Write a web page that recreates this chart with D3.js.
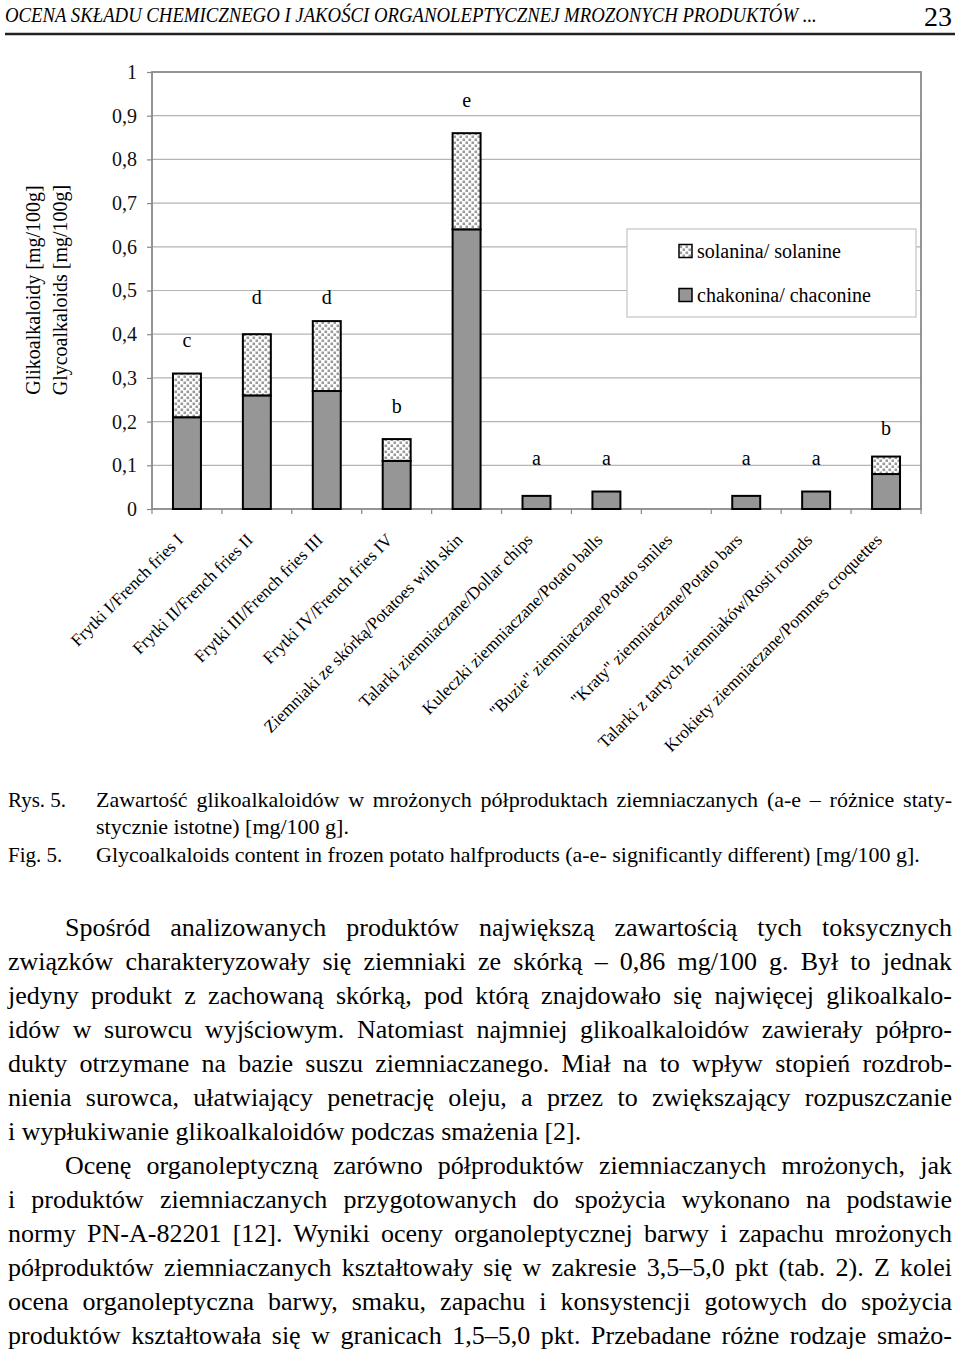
<!DOCTYPE html>
<html>
<head>
<meta charset="utf-8">
<script src="https://cdn.jsdelivr.net/npm/d3@7"></script>
<style>
    body { margin: 0; background: #fff; }
    svg { display: block; font-family: "Liberation Serif", "Times New Roman", serif; }
</style>
</head>
<body>
<script>
// chart data
const categories = [
    "Frytki I/French fries I",
    "Frytki II/French fries II",
    "Frytki III/French fries III",
    "Frytki IV/French fries IV",
    "Ziemniaki ze skórką/Potatoes with skin",
    "Talarki ziemniaczane/Dollar chips",
    "Kuleczki ziemniaczane/Potato balls",
    "\"Buzie\" ziemniaczane/Potato smiles",
    "\"Kraty\" ziemniaczane/Potato bars",
    "Talarki z tartych ziemniaków/Rosti rounds",
    "Krokiety ziemniaczane/Pommes croquettes"
];
const chaconine = [0.21, 0.26, 0.27, 0.11, 0.64, 0.03, 0.04, 0, 0.03, 0.04, 0.08];
const solanine = [0.10, 0.14, 0.16, 0.05, 0.22, 0, 0, 0, 0, 0, 0.04];
const letters = ["c", "d", "d", "b", "e", "a", "a", "", "a", "a", "b"];
const letterLevels = [0.37, 0.47, 0.47, 0.22, 0.92, 0.10, 0.10, 0, 0.10, 0.10, 0.17];
const yTicks = [0, 0.1, 0.2, 0.3, 0.4, 0.5, 0.6, 0.7, 0.8, 0.9, 1];
const seriesNames = { solanine: "solanina/ solanine", chaconine: "chakonina/ chaconine" };
const yTitle = ["Glikoalkaloidy [mg/100g]", "Glycoalkaloids [mg/100g]"];

// page text
const header = "OCENA SKŁADU CHEMICZNEGO I JAKOŚCI ORGANOLEPTYCZNEJ MROZONYCH PRODUKTÓW ...";
const pageNo = "23";
const caption = [
    { lab: "Rys. 5.", text: "Zawartość glikoalkaloidów w mrożonych półproduktach ziemniaczanych (a-e – różnice staty-", just: true },
    { lab: "", text: "stycznie istotne) [mg/100 g].", just: false },
    { lab: "Fig. 5.", text: "Glycoalkaloids content in frozen potato halfproducts (a-e- significantly different) [mg/100 g].", just: false }
];
const body = [
    { text: "Spośród analizowanych produktów największą zawartością tych toksycznych", indent: true, just: true },
    { text: "związków charakteryzowały się ziemniaki ze skórką – 0,86 mg/100 g. Był to jednak", just: true },
    { text: "jedyny produkt z zachowaną skórką, pod którą znajdowało się najwięcej glikoalkalo-", just: true },
    { text: "idów w surowcu wyjściowym. Natomiast najmniej glikoalkaloidów zawierały półpro-", just: true },
    { text: "dukty otrzymane na bazie suszu ziemniaczanego. Miał na to wpływ stopień rozdrob-", just: true },
    { text: "nienia surowca, ułatwiający penetrację oleju, a przez to zwiększający rozpuszczanie", just: true },
    { text: "i wypłukiwanie glikoalkaloidów podczas smażenia [2].", just: false },
    { text: "Ocenę organoleptyczną zarówno półproduktów ziemniaczanych mrożonych, jak", indent: true, just: true },
    { text: "i produktów ziemniaczanych przygotowanych do spożycia wykonano na podstawie", just: true },
    { text: "normy PN-A-82201 [12]. Wyniki oceny organoleptycznej barwy i zapachu mrożonych", just: true },
    { text: "półproduktów ziemniaczanych kształtowały się w zakresie 3,5–5,0 pkt (tab. 2). Z kolei", just: true },
    { text: "ocena organoleptyczna barwy, smaku, zapachu i konsystencji gotowych do spożycia", just: true },
    { text: "produktów kształtowała się w granicach 1,5–5,0 pkt. Przebadane różne rodzaje smażo-", just: true }
];

const W = 960, H = 1355;
const svg = d3.select("body").append("svg")
    .attr("width", W)
    .attr("height", H);

// dotted fill for solanine
const defs = svg.append("defs");
const pat = defs.append("pattern")
    .attr("id", "dots")
    .attr("patternUnits", "userSpaceOnUse")
    .attr("width", 6).attr("height", 6);
pat.append("rect").attr("width", 6).attr("height", 6).attr("fill", "#fff");
pat.append("rect").attr("x", 0.5).attr("y", 0.5).attr("width", 2.6).attr("height", 2.6).attr("fill", "#9a9a9a");
pat.append("rect").attr("x", 3.5).attr("y", 3.5).attr("width", 2.6).attr("height", 2.6).attr("fill", "#9a9a9a");

// justify a text line by stretching (or squeezing) word spacing
function justify(sel, width) {
    const natural = sel.node().getComputedTextLength();
    const spaces = (sel.text().match(/ /g) || []).length;
    if (spaces > 0) sel.attr("word-spacing", (width - natural) / spaces);
}

// header, squeezed like the condensed running head
const head = svg.append("text")
    .attr("font-size", 22)
    .attr("font-style", "italic")
    .text(header);
const headLen = head.node().getComputedTextLength();
head.attr("transform", "translate(5,22) scale(" + (812 / headLen) + ",1)");
svg.append("text")
    .attr("x", 952).attr("y", 26)
    .attr("text-anchor", "end")
    .attr("font-size", 28)
    .text(pageNo);
svg.append("line")
    .attr("x1", 5).attr("x2", 955)
    .attr("y1", 34).attr("y2", 34)
    .attr("stroke", "#222")
    .attr("stroke-width", 2.5);

// chart
const plot = { left: 152, right: 921, top: 72, bottom: 509 };

const x = d3.scaleBand()
    .domain(categories)
    .range([plot.left, plot.right])
    .paddingInner(0.6)
    .paddingOuter(0.3);

const y = d3.scaleLinear()
    .domain([0, 1])
    .range([plot.bottom, plot.top]);

const rows = categories.map((c, i) => ({ cat: c, chaconine: chaconine[i], solanine: solanine[i] }));
const stacked = d3.stack().keys(["chaconine", "solanine"])(rows);

// gridlines
svg.append("g")
    .selectAll("line")
    .data(yTicks.filter(d => d > 0 && d < 1))
    .join("line")
    .attr("x1", plot.left).attr("x2", plot.right)
    .attr("y1", d => y(d)).attr("y2", d => y(d))
    .attr("stroke", "#b4b4b4")
    .attr("stroke-width", 1.2);

// y axis
const yAxis = d3.axisLeft(y)
    .tickValues(yTicks)
    .tickSize(5)
    .tickPadding(10)
    .tickFormat(d => String(d).replace(".", ","));
const yg = svg.append("g")
    .attr("transform", "translate(" + plot.left + ",0)")
    .call(yAxis);
yg.select(".domain").remove();
yg.selectAll(".tick line").attr("stroke", "#888").attr("stroke-width", 1.2);
yg.selectAll(".tick text")
    .attr("font-family", "Liberation Serif, serif")
    .attr("font-size", 20)
    .attr("fill", "#111");

// x axis ticks at slot boundaries
const step = x.step();
const x0 = plot.left;
svg.append("g")
    .selectAll("line")
    .data(d3.range(categories.length + 1))
    .join("line")
    .attr("x1", i => x0 + i * step).attr("x2", i => x0 + i * step)
    .attr("y1", plot.bottom).attr("y2", plot.bottom + 5)
    .attr("stroke", "#888")
    .attr("stroke-width", 1.2);

// plot frame
svg.append("rect")
    .attr("x", plot.left).attr("y", plot.top)
    .attr("width", plot.right - plot.left)
    .attr("height", plot.bottom - plot.top)
    .attr("fill", "none")
    .attr("stroke", "#8a8a8a")
    .attr("stroke-width", 1.8);

// bars
const fills = { chaconine: "#969696", solanine: "url(#dots)" };
svg.append("g")
    .selectAll("g")
    .data(stacked)
    .join("g")
    .attr("fill", d => fills[d.key])
    .selectAll("rect")
    .data(d => d.filter(p => p[1] - p[0] > 0))
    .join("rect")
    .attr("x", d => x(d.data.cat))
    .attr("width", x.bandwidth())
    .attr("y", d => y(d[1]))
    .attr("height", d => y(d[0]) - y(d[1]))
    .attr("stroke", "#000")
    .attr("stroke-width", 2);

// significance letters
svg.append("g")
    .selectAll("text")
    .data(categories.map((c, i) => ({ cat: c, l: letters[i], v: letterLevels[i] })).filter(d => d.l))
    .join("text")
    .attr("x", d => x(d.cat) + x.bandwidth() / 2)
    .attr("y", d => y(d.v))
    .attr("text-anchor", "middle")
    .attr("font-size", 20)
    .text(d => d.l);

// x labels
svg.append("g")
    .selectAll("text")
    .data(categories)
    .join("text")
    .attr("text-anchor", "end")
    .attr("font-size", 17.3)
    .attr("transform", d => "translate(" + (x(d) + x.bandwidth() / 2 - 3) + "," + (plot.bottom + 32) + ") rotate(-45)")
    .text(d => d);

// y title
const yt = svg.append("text")
    .attr("transform", "translate(0,290) rotate(-90)")
    .attr("text-anchor", "middle")
    .attr("font-size", 20);
yt.selectAll("tspan")
    .data(yTitle)
    .join("tspan")
    .attr("x", 0)
    .attr("y", (d, i) => 40 + i * 27)
    .text(d => d);

// legend
const lg = svg.append("g").attr("transform", "translate(627,229)");
lg.append("rect")
    .attr("width", 289).attr("height", 88)
    .attr("fill", "#fff")
    .attr("stroke", "#c4c4c4")
    .attr("stroke-width", 1.2);
const legendItems = ["solanine", "chaconine"];
const li = lg.selectAll("g.item")
    .data(legendItems)
    .join("g")
    .attr("class", "item")
    .attr("transform", (d, i) => "translate(52," + (22 + i * 44) + ")");
li.append("rect")
    .attr("x", 0).attr("y", -6.5)
    .attr("width", 13).attr("height", 13)
    .attr("fill", d => fills[d])
    .attr("stroke", "#000")
    .attr("stroke-width", 1.5);
li.append("text")
    .attr("x", 18).attr("y", 7)
    .attr("font-size", 20)
    .text(d => seriesNames[d]);

// caption
caption.forEach((c, i) => {
    const yy = 807 + [0, 27, 55][i];
    if (c.lab) svg.append("text").attr("x", 8).attr("y", yy).attr("font-size", 21).text(c.lab);
    const t = svg.append("text").attr("x", 96).attr("y", yy).attr("font-size", 22).text(c.text);
    if (c.just) justify(t, 952 - 96);
});

// body text
body.forEach((b, i) => {
    const x1 = b.indent ? 65 : 8;
    const t = svg.append("text")
        .attr("x", x1)
        .attr("y", 936 + i * 34)
        .attr("font-size", 26)
        .text(b.text);
    if (b.just) justify(t, 952 - x1);
});
</script>
</body>
</html>
